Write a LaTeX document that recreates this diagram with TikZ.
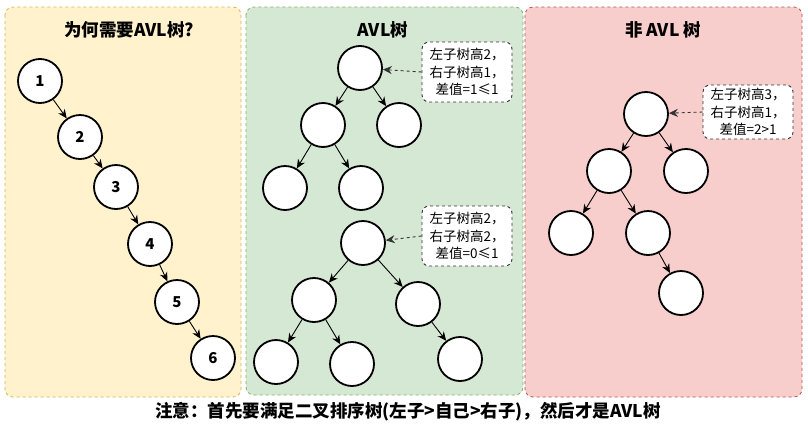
\documentclass[tikz,border=0pt]{standalone}
\usepackage{fontspec}
\setmainfont{Noto Sans CJK SC}
\usetikzlibrary{arrows.meta}
\definecolor{ylwfill}{HTML}{FFF2CC}
\definecolor{ylwline}{HTML}{D6B656}
\definecolor{grnfill}{HTML}{D5E8D4}
\definecolor{grnline}{HTML}{82B366}
\definecolor{redfill}{HTML}{F8CECC}
\definecolor{redline}{HTML}{B85450}

\begin{document}
\begin{tikzpicture}[x=1pt,y=-1pt,
		panel/.style={dashed, line width=0.8pt, rounded corners=8pt},
		title/.style={font=\bfseries\fontsize{17.5}{18}\selectfont},
		ball/.style={circle, draw, line width=1.8pt, fill=white, minimum size=44pt, inner sep=0pt, font=\bfseries\fontsize{15}{15}\selectfont},
		edge/.style={-{Stealth[length=9pt,width=8pt]}, line width=0.9pt},
		note/.style={draw=black!80, dashed, line width=0.9pt, rounded corners=7pt, fill=white, align=center, minimum width=90pt, minimum height=60pt, inner sep=0pt, font=\fontsize{13.5}{17.5}\selectfont},
		hint/.style={-{Stealth[length=9pt,width=8pt]}, dashed, draw=black!80, line width=0.9pt}]
		\useasboundingbox (0,0) rectangle (808,426);
		%
		\draw [panel, draw=ylwline, fill=ylwfill] (5,7) rectangle (241,397);
		\draw [panel, draw=grnline, fill=grnfill] (246,7) rectangle (523,395);
		\draw [panel, draw=redline, fill=redfill] (525,7) rectangle (802,397);
		\node [title] (t1) at (129,30) {为何需要AVL树?};
		\node [title] (t2) at (383,30) {AVL树};
		\node [title] (t3) at (663,30) {非 AVL 树};
		% degenerate chain
		\node [ball] (c1) at (40,81) {1};
		\node [ball] (c2) at (80,137) {2};
		\node [ball] (c3) at (116,187) {3};
		\node [ball] (c4) at (150,244) {4};
		\node [ball] (c5) at (177,302) {5};
		\node [ball] (c6) at (213,358) {6};
		\draw [edge] (c1) -- (c2);
		\draw [edge] (c2) -- (c3);
		\draw [edge] (c3) -- (c4);
		\draw [edge] (c4) -- (c5);
		\draw [edge] (c5) -- (c6);
		% avl tree, upper
		\node [ball] (a1) at (360,68) {};
		\node [ball] (a2) at (323,125) {};
		\node [ball] (a3) at (399,125) {};
		\node [ball] (a4) at (285,188) {};
		\node [ball] (a5) at (361,188) {};
		\draw [edge] (a1) -- (a2);
		\draw [edge] (a1) -- (a3);
		\draw [edge] (a2) -- (a4);
		\draw [edge] (a2) -- (a5);
		\node [note] (n1) at (467,72) {左子树高2，\\右子树高1，\\差值=1≤1};
		\draw [hint] (n1.west) -- (a1);
		% avl tree, lower
		\node [ball] (b1) at (363,243) {};
		\node [ball] (b2) at (314,300) {};
		\node [ball] (b3) at (418,304) {};
		\node [ball] (b4) at (276,362) {};
		\node [ball] (b5) at (352,364) {};
		\node [ball] (b6) at (460,359) {};
		\draw [edge] (b1) -- (b2);
		\draw [edge] (b1) -- (b3);
		\draw [edge] (b2) -- (b4);
		\draw [edge] (b2) -- (b5);
		\draw [edge] (b3) -- (b6);
		\node [note] (n2) at (467,236) {左子树高2，\\右子树高2，\\差值=0≤1};
		\draw [hint] (n2.west) -- (b1);
		% not avl
		\node [ball] (r1) at (646,114) {};
		\node [ball] (r2) at (609,171) {};
		\node [ball] (r3) at (686,171) {};
		\node [ball] (r4) at (571,233) {};
		\node [ball] (r5) at (648,233) {};
		\node [ball] (r6) at (681,293) {};
		\draw [edge] (r1) -- (r2);
		\draw [edge] (r1) -- (r3);
		\draw [edge] (r2) -- (r4);
		\draw [edge] (r2) -- (r5);
		\draw [edge] (r5) -- (r6);
		\node [note, minimum height=54pt] (n3) at (748,112) {左子树高3，\\右子树高1，\\差值=2>1};
		\draw [hint] (n3.west) -- (r1);
		%
		\node [title] (memo) at (408,412) {注意：首先要满足二叉排序树(左子>自己>右子)，然后才是AVL树};
	\end{tikzpicture}
\end{document}
